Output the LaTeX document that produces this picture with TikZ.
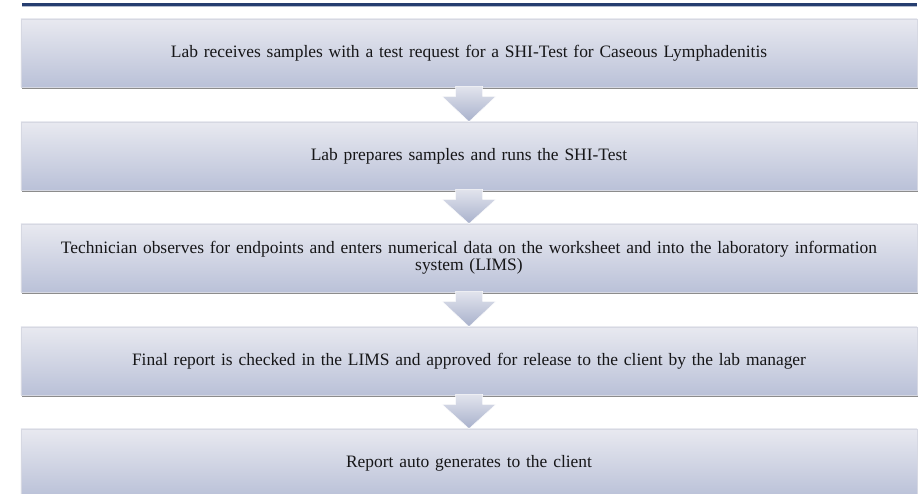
\documentclass[tikz,border=0pt]{standalone}
\usepackage{fontspec}
\setmainfont{Liberation Serif}
\usetikzlibrary{calc,shadows}

\definecolor{rulenavy}{RGB}{38,62,112}
\definecolor{boxtop}{RGB}{232,233,240}
\definecolor{boxbottom}{RGB}{186,193,216}
\definecolor{boxedge}{RGB}{214,216,226}
\definecolor{arrowtop}{RGB}{226,228,237}
\definecolor{arrowbottom}{RGB}{168,177,204}
\definecolor{textgrey}{RGB}{22,22,24}

\tikzset{
  stepbox/.style={
    rectangle, draw=boxedge, line width=0.6bp,
    top color=boxtop, bottom color=boxbottom,
    minimum width=896bp, minimum height=68bp,
    text width=880bp, align=center, inner sep=0pt,
    font=\fontsize{17.5}{17}\selectfont, text=textgrey,
    drop shadow={shadow xshift=1.2bp, shadow yshift=-2.2bp,
                 fill=black!60, opacity=0.75}
  },
  flowshade/.style={top color=arrowtop, bottom color=arrowbottom,
                    draw=white!85!arrowtop, line width=0.5bp}
}

% block arrow from the bottom of one step down to the top of the next
\newcommand{\flowstep}[2]{%
  \path[flowshade]
    ($(#1.south)+(-13.5,1)$) -- ($(#1.south)+(-13.5,-9)$)
    -- ($(#1.south)+(-27,-9)$) -- (#2.north)
    -- ($(#1.south)+(27,-9)$) -- ($(#1.south)+(13.5,-9)$)
    -- ($(#1.south)+(13.5,1)$) -- cycle;}

\begin{document}
\begin{tikzpicture}[x=1bp,y=1bp]
  \useasboundingbox (0,0) rectangle (919,494);

  % title rule
  \fill[rulenavy] (22,487.5) rectangle (917,490.5);
  \fill[rulenavy!35] (22,486.5) rectangle (917,487.5);

  \node[stepbox] (s1) at (469,441) {Lab receives samples with a test request for a SHI-Test for Caseous Lymphadenitis};
  \node[stepbox] (s2) at (469,338) {Lab prepares samples and runs the SHI-Test};
  \node[stepbox] (s3) at (469,236) {Technician observes for endpoints and enters numerical data on the worksheet and into the laboratory information\\ system (LIMS)};
  \node[stepbox] (s4) at (469,133) {Final report is checked in the LIMS and approved for release to the client by the lab manager};
  \node[stepbox] (s5) at (469,31) {Report auto generates to the client};

  \flowstep{s1}{s2}
  \flowstep{s2}{s3}
  \flowstep{s3}{s4}
  \flowstep{s4}{s5}
\end{tikzpicture}
\end{document}
